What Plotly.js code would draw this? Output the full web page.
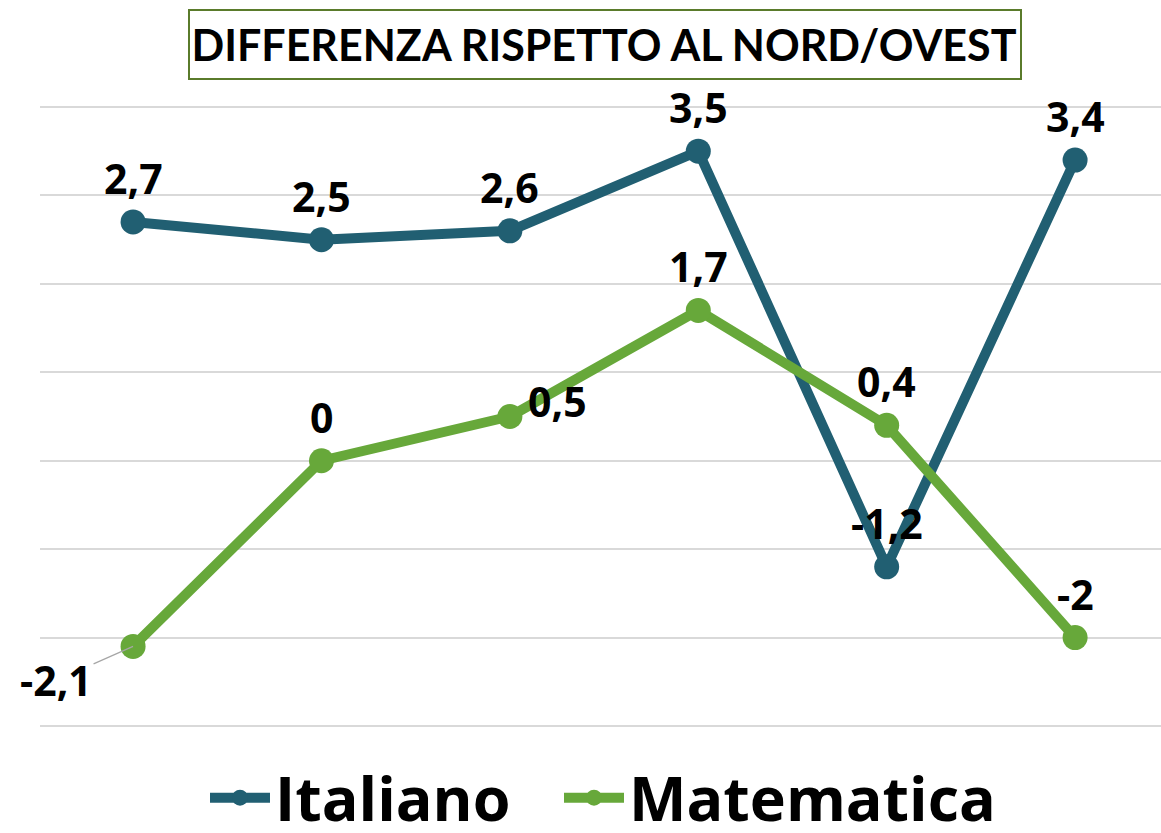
<!DOCTYPE html>
<html>
<head>
<meta charset="utf-8">
<script src="https://cdn.plot.ly/plotly-3.0.1.min.js"></script>
<style>html,body{margin:0;padding:0;background:#fff;}#chart{width:1161px;height:833px;}</style>
</head>
<body>
<div id="chart"></div>
<script>
// ---- data ----
const categories = ["A", "B", "C", "D", "E", "F"];
const seriesNames = ["Italiano", "Matematica"];
const italiano = [2.7, 2.5, 2.6, 3.5, -1.2, 3.4];
const matematica = [-2.1, 0, 0.5, 1.7, 0.4, -2];
const titleText = "DIFFERENZA RISPETTO AL NORD/OVEST";

// ---- style ----
const colors = ["#215F72", "#67A83A"];
const FONT = "Lato, 'Open Sans', sans-serif";
const LFONT = "'Open Sans', Lato, sans-serif";
const W = 1161, H = 833;
const L = 40, R = 0, T = 105, B = 105;
const plotW = W - L - R, plotH = H - T - B;
const unitPx = 88.43;
const yPad = (plotH / unitPx - 7) / 2;
const px2x = p => (p - L) / plotW;
const py2y = p => (H - B - p) / plotH;

// label offsets [xshift, yshift] per point (style only)
const offsIt = [[0,44],[0,44],[0,44],[0,44],[0,44],[0,44]];
const offsMa = [null,[0,44],[48,16],[0,44],[0,44],[0,44]];

const fmt = v => String(v).replace('.', ',');

const traces = [
  {x: categories, y: italiano, name: seriesNames[0], type: 'scatter', mode: 'lines+markers',
   line: {color: colors[0], width: 10}, marker: {color: colors[0], size: 25}, legend: 'legend'},
  {x: categories, y: matematica, name: seriesNames[1], type: 'scatter', mode: 'lines+markers',
   line: {color: colors[1], width: 10}, marker: {color: colors[1], size: 25}, legend: 'legend2'}
];

const labelFont = {family: LFONT, size: 41, weight: 'bold', color: '#000'};
const annotations = [];
italiano.forEach((v, i) => {
  annotations.push({x: i, y: v, xref: 'x', yref: 'y', text: fmt(v), showarrow: false,
    xanchor: 'center', yanchor: 'middle', xshift: offsIt[i][0], yshift: offsIt[i][1], font: labelFont});
});
matematica.forEach((v, i) => {
  if (offsMa[i] === null) {
    annotations.push({x: i, y: v, xref: 'x', yref: 'y', text: fmt(v), showarrow: true,
      arrowhead: 0, arrowwidth: 1.2, arrowcolor: '#A6A6A6', ax: -77, ay: 34, standoff: 0,
      xanchor: 'center', yanchor: 'middle', font: labelFont});
  } else {
    annotations.push({x: i, y: v, xref: 'x', yref: 'y', text: fmt(v), showarrow: false,
      xanchor: 'center', yanchor: 'middle', xshift: offsMa[i][0], yshift: offsMa[i][1], font: labelFont});
  }
});

const legendBase = {orientation: 'h', xref: 'container', yref: 'container', xanchor: 'left',
  y: 1 - 798 / H, yanchor: 'middle', itemwidth: 60,
  font: {family: LFONT, size: 61, weight: 'bold', color: '#000'}, bgcolor: 'rgba(0,0,0,0)'};

const layout = {
  width: W, height: H,
  margin: {l: L, r: R, t: T, b: B, pad: 0},
  paper_bgcolor: '#fff', plot_bgcolor: '#fff',
  title: {text: titleText, font: {family: FONT, size: 43, weight: 'bold', color: '#000'},
    xref: 'container', yref: 'container', x: 604 / W, xanchor: 'center', y: 1 - 46 / H, yanchor: 'middle'},
  xaxis: {type: 'category', range: [-0.494, 5.456], showgrid: false, zeroline: false,
    showticklabels: false, ticks: '', showline: false, fixedrange: true},
  yaxis: {range: [-3 - yPad, 4 + yPad], dtick: 1, tick0: 0, showgrid: true, gridcolor: '#D9D9D9', gridwidth: 2,
    zeroline: false, showticklabels: false, ticks: '', showline: false, fixedrange: true},
  showlegend: true,
  legend: Object.assign({}, legendBase, {x: 205 / W}),
  legend2: Object.assign({}, legendBase, {x: 559 / W}),
  shapes: [{type: 'rect', xref: 'paper', yref: 'paper', x0: px2x(189), x1: px2x(1021), y0: py2y(79), y1: py2y(10),
    line: {color: '#5A7B2B', width: 2}, fillcolor: 'rgba(0,0,0,0)', layer: 'above'}],
  annotations: annotations
};

Plotly.newPlot('chart', traces, layout, {displayModeBar: false, staticPlot: true});
</script>
</body>
</html>
